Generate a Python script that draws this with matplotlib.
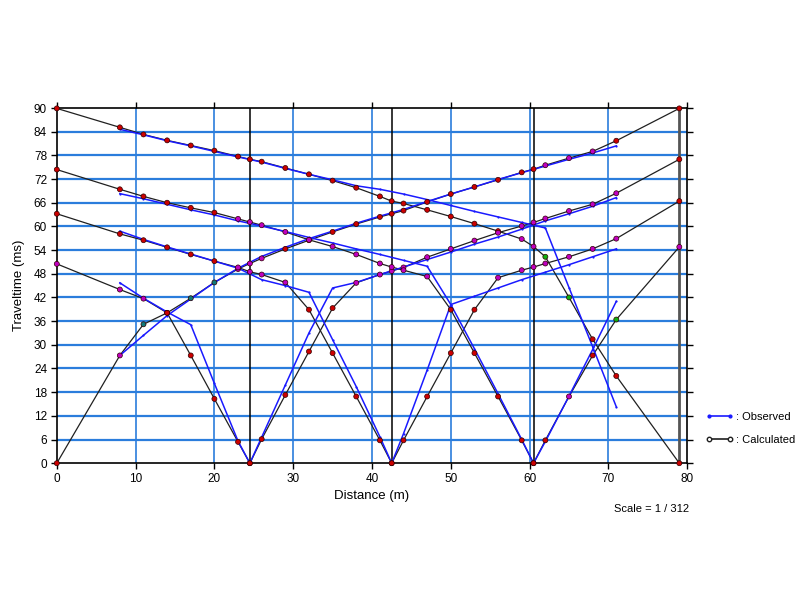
import numpy as np
import matplotlib as mpl

## agg backend, no display
mpl.use('agg')

import matplotlib.pyplot as plt
from matplotlib.lines import Line2D

plt.rcParams['font.family'] = ['Liberation Sans', 'DejaVu Sans']

## Shot positions (m)
shots = [0, 24.5, 42.5, 60.5, 79]

## Geophone positions (m)
geophones = [8, 11, 14, 17, 20, 23, 26, 29, 32, 35, 38, 41,
             44, 47, 50, 53, 56, 59, 62, 65, 68, 71]

## Calculated traveltimes (ms), one branch per shot side
calc_s0_x = [0, 8, 11, 14, 17, 20, 23, 24.5, 26, 29, 32, 35, 38, 41, 42.5, 44,
             47, 50, 53, 56, 59, 60.5, 62, 65, 68, 71, 79]
calc_s0_t = [0, 27.3, 35.2, 38.1, 41.8, 45.8, 49.2, 50.6, 51.9, 54.3, 56.5, 58.6,
             60.6, 62.4, 63.2, 64.0, 66.2, 68.2, 70.0, 71.8, 73.7, 74.5, 75.5,
             77.3, 79.0, 81.7, 89.9]

calc_s79_x = [79, 71, 68, 65, 62, 60.5, 59, 56, 53, 50, 47, 44, 42.5, 41, 38, 35,
              32, 29, 26, 24.5, 23, 20, 17, 14, 11, 8, 0]
calc_s79_t = [0, 22.1, 31.4, 42.0, 52.3, 54.9, 56.8, 58.8, 60.7, 62.5, 64.2, 65.8,
              66.4, 67.6, 69.8, 71.6, 73.2, 74.8, 76.4, 77.0, 77.7, 79.2, 80.5,
              81.8, 83.3, 85.1, 89.9]

calc_s24l_x = [24.5, 23, 20, 17, 14, 11, 8, 0]
calc_s24l_t = [0, 5.4, 16.3, 27.3, 38.1, 41.7, 44.0, 50.5]

calc_s24r_x = [24.5, 26, 29, 32, 35, 38, 41, 42.5, 44, 47, 50, 53, 56, 59, 60.5,
               62, 65, 68, 71, 79]
calc_s24r_t = [0, 6.1, 17.3, 28.3, 39.3, 45.7, 47.8, 48.7, 49.6, 52.2, 54.3, 56.4,
               58.4, 60.1, 61.0, 62.0, 63.9, 65.6, 68.4, 77.0]

calc_s42l_x = [42.5, 41, 38, 35, 32, 29, 26, 24.5, 23, 20, 17, 14, 11, 8, 0]
calc_s42l_t = [0, 5.8, 16.9, 27.9, 38.9, 45.8, 47.8, 48.5, 49.6, 51.2, 52.9, 54.7,
               56.5, 58.1, 63.2]

calc_s42r_x = [42.5, 44, 47, 50, 53, 56, 59, 60.5, 62, 65, 68, 71, 79]
calc_s42r_t = [0, 5.8, 16.9, 27.9, 38.9, 47.0, 48.9, 49.7, 50.6, 52.3, 54.3, 56.9,
               66.4]

calc_s60l_x = [60.5, 59, 56, 53, 50, 47, 44, 42.5, 41, 38, 35, 32, 29, 26, 24.5,
               23, 20, 17, 14, 11, 8, 0]
calc_s60l_t = [0, 5.8, 16.9, 27.9, 38.9, 47.3, 48.9, 49.7, 50.6, 52.9, 54.9, 56.6,
               58.6, 60.3, 61.1, 61.9, 63.5, 64.7, 66.0, 67.6, 69.4, 74.4]

calc_s60r_x = [60.5, 62, 65, 68, 71, 79]
calc_s60r_t = [0, 5.8, 16.9, 27.3, 36.4, 54.8]

## Observed (picked) traveltimes (ms)
obs_s0_x = geophones
obs_s0_t = [27.3, 32.4, 37.4, 41.6, 45.8, 49.4, 52.4, 54.7, 56.9, 58.8, 60.8,
            62.6, 64.3, 66.3, 68.2, 70.0, 71.9, 73.6, 75.3, 77.0, 78.6, 80.4]

obs_s79_x = geophones
obs_s79_t = [84.6, 83.2, 81.7, 80.4, 79.0, 77.6, 76.3, 74.7, 73.2, 71.8, 70.3,
             69.4, 68.2, 66.8, 65.3, 63.8, 62.4, 61.0, 59.6, 44.5, 29.5, 14.3]

obs_s24l_x = [8, 11, 14, 17, 20, 23, 24.5]
obs_s24l_t = [45.7, 41.8, 38.3, 35.1, 20.2, 5.6, 0]

obs_s24r_x = [24.5, 26, 29, 32, 35, 38, 41, 44, 47, 50, 53, 56, 59, 62, 65, 68, 71]
obs_s24r_t = [0, 6.6, 19.8, 33.0, 44.4, 45.8, 47.8, 49.7, 51.6, 53.5, 55.5, 57.3,
              59.3, 61.4, 63.2, 65.1, 67.3]

obs_s42l_x = [8, 11, 14, 17, 20, 23, 26, 29, 32, 35, 38, 41, 42.5]
obs_s42l_t = [58.8, 56.7, 54.8, 53.0, 51.2, 49.4, 46.5, 45.0, 43.3, 31.3, 19.4,
              6.7, 0]

obs_s42r_x = [42.5, 44, 47, 50, 53, 56, 59, 62, 65, 68, 71]
obs_s42r_t = [0, 7.5, 23.6, 40.2, 42.3, 44.4, 46.5, 48.4, 50.3, 52.3, 54.3]

obs_s60l_x = [8, 11, 14, 17, 20, 23, 26, 29, 32, 35, 38, 41, 44, 47, 50, 53, 56,
              59, 60.5]
obs_s60l_t = [68.3, 67.0, 65.6, 64.2, 62.9, 61.4, 60.1, 58.7, 57.2, 55.8, 54.3,
              52.9, 51.4, 49.9, 40.2, 29.0, 17.6, 6.0, 0]

obs_s60r_x = [60.5, 62, 65, 68, 71]
obs_s60r_t = [0, 5.5, 17.0, 28.8, 41.0]

## Marker colours of the calculated points (r=red, m=magenta, g=green, t=teal)
dot_colors = {'r': '#cc0000', 'm': '#c000c0', 'g': '#10b010', 't': '#107878'}
calc_branches = [
    (calc_s0_x, calc_s0_t, 'rmtrttmmmrrrrrrrrrrrrrmmmrr'),
    (calc_s79_x, calc_s79_t, 'rrrggmmrrrrrrrrrrrrrrrrrrrr'),
    (calc_s24l_x, calc_s24l_t, 'rrrrrmmm'),
    (calc_s24r_x, calc_s24r_t, 'rrrrrmmmmmmmmmmmmmmr'),
    (calc_s42l_x, calc_s42l_t, 'rrrrrmmmmrrrrrr'),
    (calc_s42r_x, calc_s42r_t, 'rrrrrmmmmmmmr'),
    (calc_s60l_x, calc_s60l_t, 'rrrrrmmmmmmmmmmmrrrrrr'),
    (calc_s60r_x, calc_s60r_t, 'rrmrgm'),
]
obs_branches = [
    (obs_s0_x, obs_s0_t), (obs_s79_x, obs_s79_t),
    (obs_s24l_x, obs_s24l_t), (obs_s24r_x, obs_s24r_t),
    (obs_s42l_x, obs_s42l_t), (obs_s42r_x, obs_s42r_t),
    (obs_s60l_x, obs_s60l_t), (obs_s60r_x, obs_s60r_t),
]

fig = plt.figure(figsize=(8, 6), dpi=100)
ax = fig.add_axes([0.071, 0.228, 0.788, 0.592])

grid_blue = '#2b7ddc'
## grid: horizontal lines thicker than vertical ones
for y in np.arange(6, 90, 6):
    ax.axhline(y, color=grid_blue, lw=1.6, zorder=1)
for x in np.arange(10, 80, 10):
    ax.axvline(x, color=grid_blue, lw=1.2, zorder=1)

## vertical lines at the shot points
for s in shots[1:-1]:
    ax.axvline(s, color='black', lw=1.1, zorder=2)
ax.axvline(shots[-1], color='#555555', lw=2.0, zorder=2)

## calculated curves
for xs, ts, cols in calc_branches:
    ax.plot(xs, ts, color='#202020', lw=0.9, zorder=3)

## observed curves
for xs, ts in obs_branches:
    ax.plot(xs, ts, color='#1a1aff', lw=1.1, marker='o', markersize=1.6,
            markerfacecolor='#1a1aff', markeredgewidth=0, zorder=4)

## calculated points
for xs, ts, cols in calc_branches:
    ax.scatter(xs, ts, s=13, c=[dot_colors[c] for c in cols],
               edgecolors='#300000', linewidths=0.5, zorder=5, clip_on=False)

ax.set_xlim(0, 80)
ax.set_ylim(0, 90)
ax.set_xticks(np.arange(0, 81, 10))
ax.set_yticks(np.arange(0, 91, 6))
ax.tick_params(direction='out', length=4, width=1, top=True, right=True,
               labelsize=8.5, pad=3)
for sp in ax.spines.values():
    sp.set_color('black')
    sp.set_linewidth(1.2)

ax.set_xlabel("Distance (m)", fontsize=9.5, labelpad=4)
ax.set_ylabel("Traveltime (ms)", fontsize=9.5, labelpad=6)

## legend
handles = [
    Line2D([], [], color='#1a1aff', lw=1.2, marker='o', markersize=2),
    Line2D([], [], color='#202020', lw=1.2, marker='o', markersize=3.2,
           markerfacecolor='white', markeredgecolor='#202020'),
]
ax.legend(handles, [': Observed', ': Calculated'], loc='lower left',
          bbox_to_anchor=(1.022, 0.04), frameon=False, fontsize=8,
          handlelength=2.5, handletextpad=0.2, labelspacing=1.1, numpoints=2,
          borderaxespad=0)

fig.text(0.815, 0.151, "Scale = 1 / 312", fontsize=8, ha='center', va='center')

fig.savefig('out.png', dpi=100)
